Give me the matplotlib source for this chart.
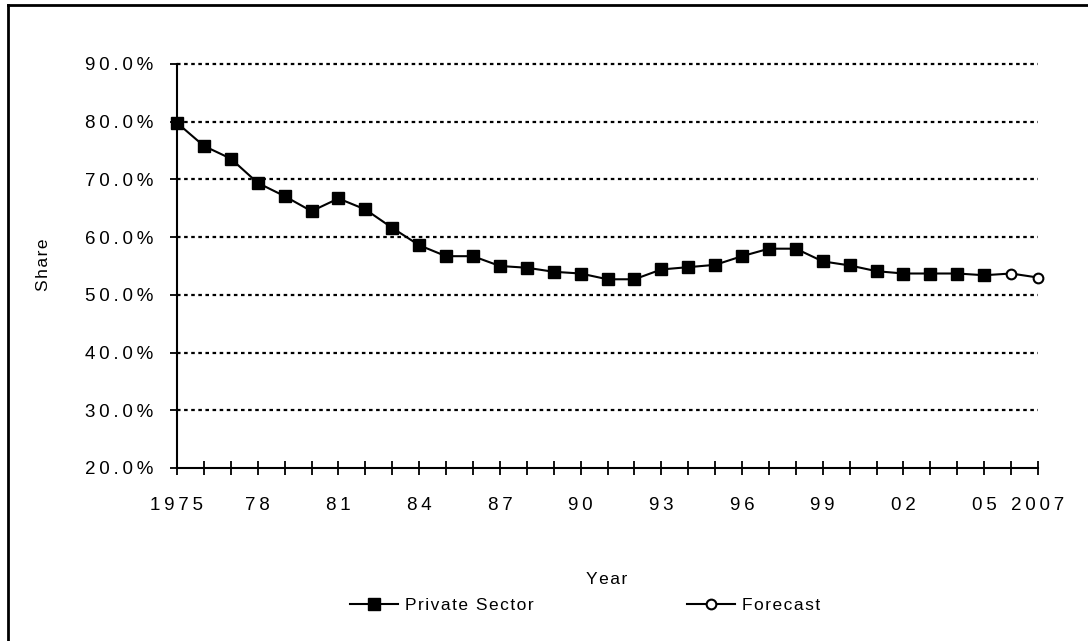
import matplotlib
matplotlib.use("Agg")
import matplotlib.pyplot as plt
import numpy as np
from matplotlib.lines import Line2D

years = list(range(1975, 2008))
private_sector = [79.8, 75.8, 73.6, 69.4, 67.1, 64.5, 66.7, 64.8, 61.6, 58.6,
                  56.7, 56.7, 55.0, 54.7, 54.0, 53.7, 52.7, 52.7, 54.4, 54.8,
                  55.2, 56.7, 58.0, 58.0, 55.8, 55.1, 54.1, 53.7, 53.7, 53.7,
                  53.4]
forecast_years = [2005, 2006, 2007]
forecast = [53.4, 53.7, 53.0]
tick_label_years = [1975, 1978, 1981, 1984, 1987, 1990, 1993, 1996, 1999, 2002, 2005, 2007]
tick_labels = ["1975", "78", "81", "84", "87", "90", "93", "96", "99", "02", "05", "2007"]
y_ticks = [20, 30, 40, 50, 60, 70, 80, 90]

plt.rcParams['font.family'] = ['Liberation Sans', 'DejaVu Sans']
TS = "\u2009"   # tracking for tick labels
HS = "\u200a"   # tracking for titles/legend


def track(s, ch):
    return ch.join(s)


W, H = 1088, 641
fig = plt.figure(figsize=(W / 100, H / 100), dpi=100)
ax = fig.add_axes([177 / W, 1 - 468 / H, (1038 - 177) / W, (468 - 64) / H])

# gridlines
for yv in y_ticks[1:]:
    ax.axhline(yv, color='black', lw=1.6, ls=(0, (1.6, 1.6)), zorder=1, clip_on=False)

ax.plot(forecast_years, forecast, color='black', lw=1.5, marker='o',
        markersize=7, markerfacecolor='white', markeredgecolor='black',
        markeredgewidth=1.5, markevery=[1, 2], zorder=3, clip_on=False)
ax.plot(years[:len(private_sector)], private_sector, color='black', lw=1.5,
        marker='s', markersize=8.5, markerfacecolor='black',
        markeredgecolor='black', zorder=4, clip_on=False)

ax.set_xlim(1975, 2007)
ax.set_ylim(20, 90)
ax.set_xticks(years)
ax.set_xticklabels([track(tick_labels[tick_label_years.index(y)], TS) if y in tick_label_years else "" for y in years])
ax.set_yticks(y_ticks)
ax.set_yticklabels([track(f"{v:.1f}%", TS) for v in y_ticks])
ax.tick_params(axis='x', direction='inout', length=10, width=1.3, pad=16, labelsize=13.5)
ax.tick_params(axis='y', direction='out', length=5, width=1.3, pad=12, labelsize=13.5)
for s in ['top', 'right']:
    ax.spines[s].set_visible(False)
for s in ['left', 'bottom']:
    ax.spines[s].set_linewidth(1.5)

fig.text(44 / W, 1 - 265 / H, track("Share", HS), rotation=90, ha='center', va='center', fontsize=12.5)
fig.text(607 / W, 1 - 580 / H, track("Year", HS), ha='center', va='center', fontsize=12.5)

handles = [
    Line2D([], [], color='black', lw=1.5, marker='s', markersize=8, markerfacecolor='black'),
    Line2D([], [], color='black', lw=1.5, marker='o', markersize=7, markerfacecolor='white', markeredgewidth=1.5),
]
fig.legend(handles, [track("Private Sector", HS), track("Forecast", HS)], loc='center',
           bbox_to_anchor=(585 / W, 1 - 605 / H), ncol=2, frameon=False,
           fontsize=12.5, handlelength=2.8, handletextpad=0.4, columnspacing=8.8)

# outer frame (left and top visible)
fig.add_artist(Line2D([7.5 / W, 7.5 / W], [0, 1 - 5 / H], transform=fig.transFigure, color='black', lw=2))
fig.add_artist(Line2D([7.5 / W, 1], [1 - 5 / H, 1 - 5 / H], transform=fig.transFigure, color='black', lw=2))

fig.savefig("out.png", dpi=100)
